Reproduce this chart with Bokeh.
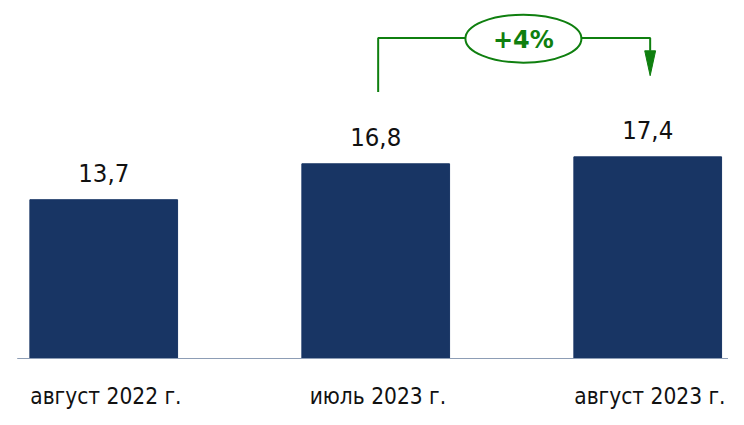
from bokeh.plotting import figure
from bokeh.embed import file_html
from bokeh.resources import INLINE
from bokeh.core.properties import value

categories = ["август 2022 г.", "июль 2023 г.", "август 2023 г."]
values = [13.7, 16.8, 17.4]
value_labels = ["13,7", "16,8", "17,4"]

# annotation (data units)
bracket_y = 27.65
bracket_start = 23.0
arrow_tip = 24.4
arrow_head_len = 2.15
arrow_head_half = 0.02
change_x = 1.543
pct = round((values[2] / values[1] - 1) * 100)
change_label = "+%d%%" % pct

label_gap = 2.28      # value label above bar top
cat_label_y = -3.26   # category label baseline

W, H = 728, 409
xs = list(range(len(categories)))

p = figure(width=W, height=H, x_range=(-0.3795, 2.2970), y_range=(-4.40, 30.89),
           output_backend="svg", toolbar_location=None, min_border=0)
p.axis.visible = False
p.grid.visible = False
p.outline_line_color = None
p.background_fill_color = "white"

p.vbar(x=xs, top=values, width=0.543, color="#183564")
p.segment(x0=[-0.318], y0=[0], x1=[2.4], y1=[0], line_color="#8d9db5", line_width=1.2)

p.text(x=xs, y=[v + label_gap for v in values], text=value_labels, text_align="center",
       text_baseline="alphabetic", text_font=value("DejaVu Sans Condensed"),
       text_font_size="25.5px", text_color="#111111")

p.text(x=[x + 0.008 for x in xs], y=[cat_label_y] * 3, text=categories, text_align="center",
       text_baseline="alphabetic", text_font=value("DejaVu Sans Condensed"),
       text_font_size="22.5px", text_color="#111111")

green = "#0f7f0f"
lx, rx = xs[1] + 0.009, xs[2] + 0.009
p.line(x=[lx, lx, rx, rx], y=[bracket_start, bracket_y, bracket_y, arrow_tip + arrow_head_len],
       line_color=green, line_width=2)
p.patch(x=[rx - arrow_head_half, rx + arrow_head_half, rx],
        y=[arrow_tip + arrow_head_len, arrow_tip + arrow_head_len, arrow_tip],
        fill_color=green, line_color=green)
p.ellipse(x=[change_x], y=[bracket_y - 0.05], width=116, height=48, width_units="screen",
          height_units="screen", fill_color="white", line_color=green, line_width=2)
p.text(x=[change_x], y=[bracket_y - 0.15], text=[change_label], text_align="center",
       text_baseline="middle", text_font=value("DejaVu Sans"), text_font_style="bold",
       text_font_size="24px", text_color=green)

open("out.html", "w").write(file_html(p, INLINE))
